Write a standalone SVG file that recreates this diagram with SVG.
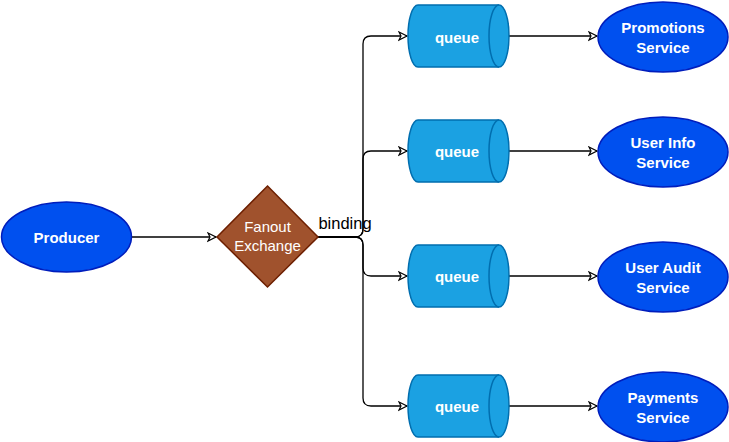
<svg xmlns="http://www.w3.org/2000/svg" width="729" height="442" viewBox="0 0 729 442">
<style>
.ell{fill:#0050ef;stroke:#001dbc;stroke-width:1.5}
.q{fill:#1ba1e2;stroke:#006eaf;stroke-width:1.5}
.wt{fill:#ffffff;font-family:"Liberation Sans",Arial,sans-serif;font-size:15px;font-weight:bold;text-anchor:middle}
.lbl{fill:#000000;font-family:"Liberation Sans",Arial,sans-serif;font-size:16.5px;text-anchor:middle}
.c{fill:none;stroke:#000000;stroke-width:1.3}
</style>
<defs>
<marker id="ah" markerUnits="userSpaceOnUse" markerWidth="12" markerHeight="12" refX="9" refY="5" orient="auto">
<path d="M1,1 L9,5 L1,9 L3,5 Z" fill="#ffffff" stroke="#000000" stroke-width="1.2"/>
</marker>
</defs>
<rect width="729" height="442" fill="#ffffff"/>
<g id="connectors">
<path class="c" d="M132,237 H216" marker-end="url(#ah)"/>
<path class="c" d="M318,237 H355 Q363,237 363,229 V44 Q363,36 371,36 H407" marker-end="url(#ah)"/>
<path class="c" d="M318,237 H355 Q363,237 363,229 V159 Q363,151 371,151 H407" marker-end="url(#ah)"/>
<path class="c" d="M318,237 H355 Q363,237 363,245 V268 Q363,276 371,276 H407" marker-end="url(#ah)"/>
<path class="c" d="M318,237 H355 Q363,237 363,245 V398 Q363,406 371,406 H407" marker-end="url(#ah)"/>
<path class="c" d="M509,36 H597" marker-end="url(#ah)"/>
<path class="c" d="M509,151 H597" marker-end="url(#ah)"/>
<path class="c" d="M509,276 H597" marker-end="url(#ah)"/>
<path class="c" d="M509,406 H597" marker-end="url(#ah)"/>
<text class="lbl" x="345" y="229">binding</text>
</g>
<g id="producer">
<ellipse class="ell" cx="66.5" cy="237" rx="65" ry="35"/>
<text class="wt" x="66.5" y="242.5">Producer</text>
</g>
<g id="exchange">
<path d="M267.5,186 L318,237 L267.5,287 L217,237 Z" fill="#a0522d" stroke="#6d1f00" stroke-width="1.5"/>
<text class="wt" x="267.5" y="232" style="font-weight:normal">Fanout</text>
<text class="wt" x="267.5" y="251" style="font-weight:normal">Exchange</text>
</g>
<g id="queue1">
<path class="q" d="M418,5 H499 A10,31 0 0 1 499,67 H418 A10,31 0 0 1 418,5 Z"/>
<path class="q" d="M499,5 A10,31 0 0 0 499,67" fill="none"/>
<text class="wt" x="457" y="43">queue</text>
</g>
<g id="queue2">
<path class="q" d="M418,120 H499 A10,31 0 0 1 499,182 H418 A10,31 0 0 1 418,120 Z"/>
<path class="q" d="M499,120 A10,31 0 0 0 499,182" fill="none"/>
<text class="wt" x="457" y="157">queue</text>
</g>
<g id="queue3">
<path class="q" d="M418,245 H499 A10,31 0 0 1 499,307 H418 A10,31 0 0 1 418,245 Z"/>
<path class="q" d="M499,245 A10,31 0 0 0 499,307" fill="none"/>
<text class="wt" x="457" y="282">queue</text>
</g>
<g id="queue4">
<path class="q" d="M418,375 H499 A10,31 0 0 1 499,437 H418 A10,31 0 0 1 418,375 Z"/>
<path class="q" d="M499,375 A10,31 0 0 0 499,437" fill="none"/>
<text class="wt" x="457" y="412">queue</text>
</g>
<g id="promotions">
<ellipse class="ell" cx="663" cy="37" rx="65" ry="35"/>
<text class="wt" x="663" y="32.5">Promotions</text>
<text class="wt" x="663" y="52.5">Service</text>
</g>
<g id="userinfo">
<ellipse class="ell" cx="663" cy="152" rx="65" ry="35"/>
<text class="wt" x="663" y="147.5">User Info</text>
<text class="wt" x="663" y="167.5">Service</text>
</g>
<g id="useraudit">
<ellipse class="ell" cx="663" cy="277" rx="65" ry="35"/>
<text class="wt" x="663" y="272.5">User Audit</text>
<text class="wt" x="663" y="292.5">Service</text>
</g>
<g id="payments">
<ellipse class="ell" cx="663" cy="407" rx="65" ry="35"/>
<text class="wt" x="663" y="402.5">Payments</text>
<text class="wt" x="663" y="422.5">Service</text>
</g>
</svg>
